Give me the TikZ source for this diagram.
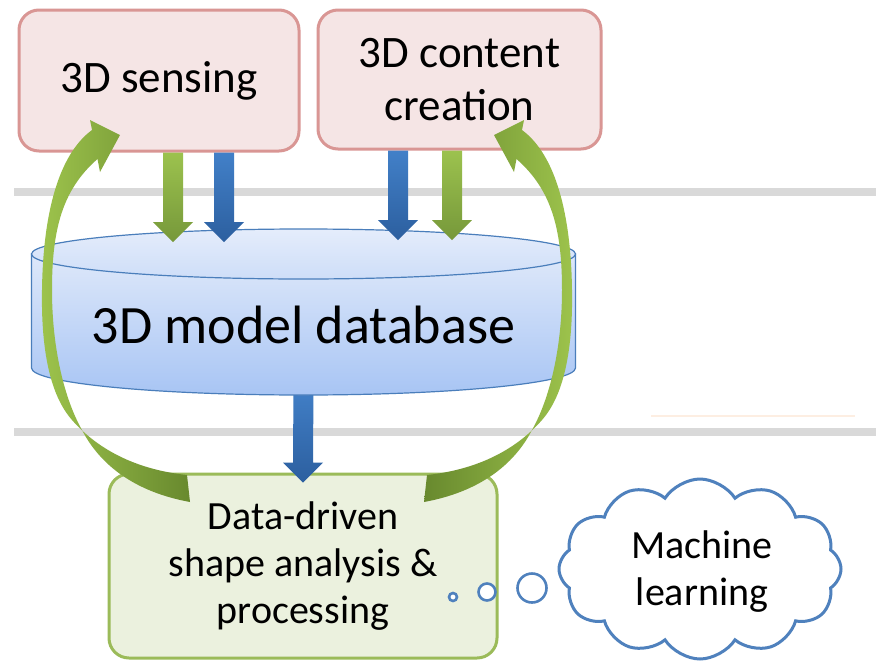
\documentclass[tikz,border=0pt]{standalone}
\usepackage{fontspec}
\setmainfont{Carlito}
\usetikzlibrary{shapes.symbols,calc}

\definecolor{pinkfill}{HTML}{F5E5E5}
\definecolor{pinkline}{HTML}{D99694}
\definecolor{greenfill}{HTML}{EBF1DE}
\definecolor{greenline}{HTML}{9BBB59}
\definecolor{cloudblue}{HTML}{4F81BD}
\definecolor{dbline}{HTML}{4A7EBB}
\definecolor{dbtop}{HTML}{DEE8FA}
\definecolor{dbbottom}{HTML}{A8C5F4}
\definecolor{rulegray}{HTML}{D9D9D9}
\definecolor{faintorange}{HTML}{FDEEE2}
\definecolor{arrgreenA}{HTML}{9CC24E}
\definecolor{arrgreenB}{HTML}{76983A}
\definecolor{arrblueA}{HTML}{4280C8}
\definecolor{arrblueB}{HTML}{2C5F9F}
\definecolor{curvelight}{HTML}{9DC34C}
\definecolor{curvedark}{HTML}{68892E}

% vertical block arrow from #1 to the tip #2
\newcommand\blockarrow[3]{%
  \path[#3] ($(#1)+(-10,0)$) -- ($(#2)+(-10,-20)$) -- ($(#2)+(-20,-20)$) -- (#2)
    -- ($(#2)+(20,-20)$) -- ($(#2)+(10,-20)$) -- ($(#1)+(10,0)$) -- cycle;}

% tapered curved arrow (left-hand version)
\newcommand\curvedarrow{%
  (187,475) .. controls (140,470) and (100,452) .. (72,420)
  .. controls (50,395) and (41,350) .. (42,290)
  .. controls (43,215) and (58,155) .. (92,130)
  -- (90,120) -- (120,135) -- (100,172) -- (97.5,159)
  .. controls (62,190) and (52,230) .. (52,290)
  .. controls (52,350) and (65,400) .. (82,430)
  .. controls (100,465) and (135,492) .. (190,502) -- cycle}

\begin{document}
\begin{tikzpicture}[x=1pt,y=-1pt,
  pinkbox/.style={draw=pinkline, fill=pinkfill, line width=3pt, rounded corners=20pt,
    align=center, font=\fontsize{45}{53}\selectfont},
  greenbox/.style={draw=greenline, fill=greenfill, line width=3pt, rounded corners=20pt,
    align=center, font=\fontsize{40}{47}\selectfont},
  greenarrow/.style={top color=arrgreenA, bottom color=arrgreenB},
  bluearrow/.style={top color=arrblueA, bottom color=arrblueB},
  bubble/.style={circle, draw=cloudblue, line width=2.6pt, fill=white, inner sep=0pt}]

\useasboundingbox (0,0) rectangle (876,662);
\fill[white] (0,0) rectangle (876,662);

% horizontal rules
\draw[rulegray, line width=8pt] (14,192) -- (876,192);
\draw[rulegray, line width=8pt] (14,432) -- (876,432);
\draw[faintorange, line width=2pt] (651,416) -- (855,416);

% boxes
\node[pinkbox, minimum width=280pt, minimum height=141pt] (sens) at (159,80.5) {3D sensing};
\node[pinkbox, minimum width=283pt, minimum height=139pt] (cont) at (459.5,79.5) {3D content\\creation};
\node[greenbox, minimum width=388pt, minimum height=184pt] (data) at (303,566) {Data-driven\\shape analysis \&\\processing};

% arrow from the database down to the analysis box
\coordinate (dbout) at (303.5,385);
\coordinate (datain) at ($(data.north)+(0,10)$);
\blockarrow{dbout}{datain}{bluearrow}

% database cylinder
\path[top color=dbtop, bottom color=dbbottom, draw=dbline, line width=1.2pt]
  (31.5,254) -- (31.5,368) arc[start angle=180, end angle=0, x radius=272, y radius=27]
  -- (575.5,254) -- cycle;
\path[top color=dbtop!80!white, bottom color=dbtop!70!dbbottom, draw=dbline, line width=1.2pt]
  (303.5,254) ellipse[x radius=272, y radius=25];
\node[font=\fontsize{54}{60}\selectfont, anchor=base, inner sep=0pt] (db) at (303.5,343) {3D model database};

% arrows into the database
\coordinate (g1tip) at (173,242);
\coordinate (b1tip) at (224,242);
\coordinate (b2tip) at (398,240);
\coordinate (g2tip) at (452,240);
\blockarrow{sens.south -| g1tip}{g1tip}{greenarrow}
\blockarrow{sens.south -| b1tip}{b1tip}{bluearrow}
\blockarrow{cont.south -| b2tip}{b2tip}{bluearrow}
\blockarrow{cont.south -| g2tip}{g2tip}{greenarrow}

% thought cloud
\node[cloud, cloud puffs=12, cloud puff arc=115, cloud ignores aspect, draw=cloudblue,
  line width=3pt, fill=white, minimum width=282pt, minimum height=180pt,
  inner sep=0pt] (ml) at (700,569) {};
\node[align=center, font=\fontsize{40}{47}\selectfont, inner sep=0pt]
  (mltext) at (702,572) {Machine\\learning};
\node[bubble, minimum size=8pt] (b1) at (453,597) {};
\node[bubble, minimum size=17pt] (b2) at (487,592) {};
\node[bubble, minimum size=29pt] (b3) at (532,588) {};

% feedback arrows from the analysis box back to the sources
\path[left color=curvelight, right color=curvedark] \curvedarrow;
\begin{scope}[xshift=614pt, xscale=-1]
  \path[left color=curvedark, right color=curvelight] \curvedarrow;
\end{scope}
\end{tikzpicture}
\end{document}
